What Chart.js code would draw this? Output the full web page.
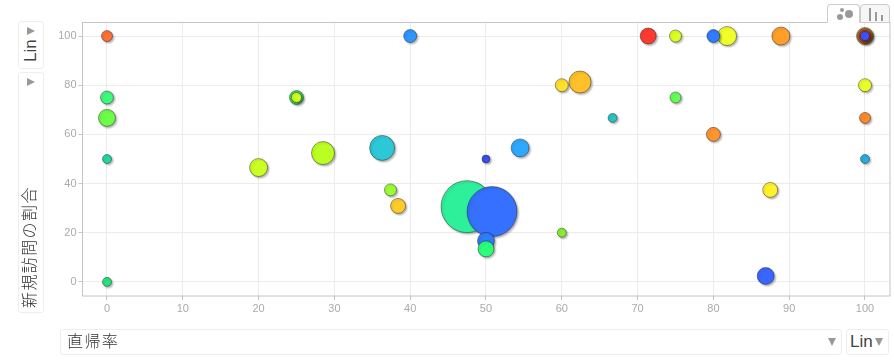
<!DOCTYPE html>
<html>
<head>
<meta charset="utf-8">
<script src="https://cdn.jsdelivr.net/npm/chart.js@4"></script>
<style>
    html, body { margin: 0; padding: 0; background: #fff; }
    #wrap { position: relative; width: 894px; height: 360px; overflow: hidden; font-family: "Liberation Sans", Arial, sans-serif; color: #444; }
    #myChart { position: absolute; left: 0; top: 0; }
    .box { position: absolute; box-sizing: border-box; border: 1px solid #eee; border-radius: 3px; background: #fff; }
    .arrow-right, .arrow-down { position: absolute; width: 0; height: 0; }
    .arrow-right { border-top: 4px solid transparent; border-bottom: 4px solid transparent; border-left: 8px solid #999; }
    .arrow-down { border-left: 4px solid transparent; border-right: 4px solid transparent; border-top: 8px solid #999; }
    .label { position: absolute; white-space: nowrap; line-height: 1; }
    .rotated { transform-origin: left top; transform: rotate(-90deg); }
    .jp { font-family: "Noto Sans CJK JP", sans-serif; font-size: 16px; font-weight: 300; color: #333; letter-spacing: 1.4px; }
    .tab { position: absolute; top: 4px; box-sizing: border-box; height: 19px; border: 1px solid #ccc; border-radius: 4px 4px 0 0; }
    .dot, .bar { position: absolute; background: #999; }
    .dot { border-radius: 50%; }
</style>
</head>
<body>
<div id="wrap">
    <canvas id="myChart" width="894" height="360"></canvas>

    <div class="box" style="left:18px;top:21px;width:26px;height:48px;"></div>
    <div class="arrow-right" style="left:27px;top:27px;"></div>
    <div class="label rotated" style="left:22px;top:62px;font-size:17px;">Lin</div>

    <div class="box" style="left:18px;top:72px;width:26px;height:241px;"></div>
    <div class="arrow-right" style="left:27px;top:78px;"></div>
    <div class="label rotated jp" style="left:20px;top:308px;">新規訪問の割合</div>

    <div class="box" style="left:60px;top:329px;width:782px;height:26px;"></div>
    <div class="label jp" style="left:67px;top:332px;">直帰率</div>
    <div class="arrow-down" style="left:828px;top:338px;"></div>

    <div class="box" style="left:846px;top:329px;width:43px;height:26px;"></div>
    <div class="label" style="left:850px;top:333px;font-size:17px;">Lin</div>
    <div class="arrow-down" style="left:875px;top:338px;"></div>

    <div class="tab" style="left:827px;width:33px;background:#fff;border-bottom:1px solid #fff;">
        <div class="dot" style="left:9px;top:9px;width:6px;height:6px;"></div>
        <div class="dot" style="left:12px;top:3px;width:4px;height:4px;"></div>
        <div class="dot" style="left:17px;top:5px;width:8px;height:8px;"></div>
    </div>
    <div class="tab" style="left:860px;width:30px;background:#f6f6f6;">
        <div class="bar" style="left:8px;top:3px;width:2px;height:13px;"></div>
        <div class="bar" style="left:14px;top:7px;width:2px;height:9px;"></div>
        <div class="bar" style="left:20px;top:10px;width:2px;height:6px;"></div>
    </div>
</div>

<script>
const xTicks = [0, 10, 20, 30, 40, 50, 60, 70, 80, 90, 100];
const yTicks = [0, 20, 40, 60, 80, 100];

const bounceRate = [47.5, 50.8, 50, 50, 0, 0, 0, 0, 0, 25, 25, 20, 28.5, 36.3, 40, 50, 54.5, 60, 62.4, 66.7, 71.4, 75, 75, 81.8, 80, 88.9, 100, 100, 100, 100, 100, 100, 100, 80, 87.5, 86.9, 37.4, 38.4, 60];
const newVisits = [30.6, 28.6, 16.7, 13.4, 100, 75, 66.7, 50, 0, 75, 75, 46.5, 52.4, 54.5, 100, 50, 54.5, 80, 81.3, 66.7, 100, 100, 75, 100, 100, 100, 100, 100, 100, 100, 80, 66.7, 50, 60, 37.4, 2.4, 37.4, 30.9, 20];
const visitSize = [26, 25, 8.5, 8, 5.5, 6.5, 8.5, 4.5, 4.5, 7, 5, 9, 11.5, 12.5, 6.5, 4, 9, 6.5, 11, 4.5, 8, 6, 5.5, 9.5, 6.5, 9, 8.5, 7.5, 6, 4.5, 6.5, 5.5, 4.5, 7, 7.5, 8.5, 6, 7.5, 4.5];
const bubbleColors = ['#2ef09a', '#3570ff', '#2e7cff', '#2aff7a', '#ff7033', '#3dfa7a', '#6efc4a', '#1fd9a0', '#22e67a', '#3adf5a', '#ccff22', '#ccff22', '#bbff22', '#2cc8d8', '#2d96ff', '#3a4ff5', '#2ea8ff', '#ffe02a', '#ffc02a', '#22c8c0', '#ff3b30', '#ddff22', '#66ff55', '#f0ff2a', '#2e7cff', '#ff9f2a', '#b8c82a', '#e0602a', '#b83a30', '#3a55ff', '#eaff2a', '#ff8a2a', '#22b0e0', '#ff9430', '#fff22a', '#3a66ff', '#99ff33', '#ffcc2a', '#88ee33'];

const bubbles = bounceRate.map(function(x, i) {
    return { x: x, y: newVisits[i], r: visitSize[i] };
});

// shadow under the bubbles and the grey frame round the plot
const plotExtras = {
    id: 'plotExtras',
    beforeDatasetDraw: function(chart) {
        const ctx = chart.ctx;
        ctx.save();
        ctx.shadowColor = 'rgba(0, 0, 0, 0.3)';
        ctx.shadowBlur = 2;
        ctx.shadowOffsetX = 1.5;
        ctx.shadowOffsetY = 1.5;
    },
    afterDatasetDraw: function(chart) {
        chart.ctx.restore();
    },
    beforeDatasetsDraw: function(chart) {
        const ctx = chart.ctx;
        const area = chart.chartArea;
        ctx.save();
        ctx.strokeStyle = '#c4c4c4';
        ctx.lineWidth = 1;
        ctx.strokeRect(area.left, area.top, area.right - area.left, area.bottom - area.top);
        ctx.restore();
    }
};

function axisOptions(min, max, tickValues) {
    return {
        type: 'linear',
        min: min,
        max: max,
        afterBuildTicks: function(scale) {
            scale.ticks = tickValues.map(function(v) { return { value: v }; });
        },
        grid: { color: '#ececec', tickColor: '#c4c4c4', tickLength: 4 },
        border: { display: false },
        ticks: {
            color: '#aaa',
            font: { family: '"Liberation Sans", Arial, sans-serif', size: 11 },
            padding: 2,
            maxRotation: 0,
            autoSkip: false
        }
    };
}

const xAxis = axisOptions(-3.23, 103.3, xTicks);
xAxis.afterFit = function(scale) { scale.height = 64; };
const yAxis = axisOptions(-5.75, 105.5, yTicks);
yAxis.afterFit = function(scale) { scale.width = 42.5; };

new Chart(document.querySelector('#myChart').getContext('2d'), {
    type: 'bubble',
    data: {
        datasets: [{
            data: bubbles,
            backgroundColor: bubbleColors,
            borderColor: 'rgba(30, 30, 30, 0.45)',
            borderWidth: 1,
            clip: false
        }]
    },
    options: {
        responsive: false,
        animation: false,
        layout: { autoPadding: false, padding: { left: 40, top: 22.5, right: 4, bottom: 0 } },
        plugins: { legend: { display: false }, tooltip: { enabled: false } },
        scales: { x: xAxis, y: yAxis }
    },
    plugins: [plotExtras]
});
</script>
</body>
</html>
